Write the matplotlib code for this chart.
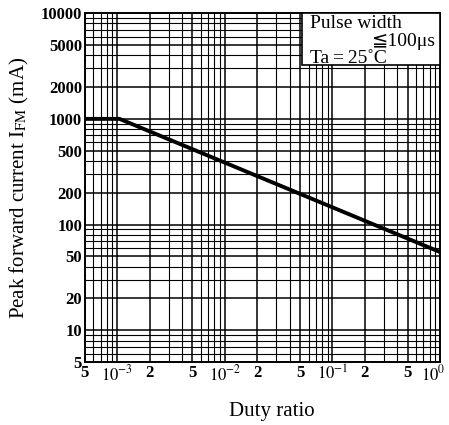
import matplotlib
matplotlib.use("Agg")
import matplotlib.pyplot as plt
from matplotlib.patches import Rectangle
from matplotlib.transforms import ScaledTranslation
from matplotlib.ticker import LogLocator, FixedLocator, FixedFormatter, NullFormatter

# duty ratio vs allowable peak forward current
duty = [5e-4, 1.05e-3, 1.0]
i_fm = [1000, 1000, 55]

x_ticks = [5e-4, 1e-3, 2e-3, 5e-3, 1e-2, 2e-2, 5e-2, 1e-1, 2e-1, 5e-1, 1.0]
x_labels = ["5", r"$10^{-3}$", "2", "5", r"$10^{-2}$", "2", "5",
            r"$10^{-1}$", "2", "5", r"$10^{0}$"]
y_ticks = [5, 10, 20, 50, 100, 200, 500, 1000, 2000, 5000, 10000]
y_labels = [str(v) for v in y_ticks]

plt.rcParams["font.family"] = ["Liberation Serif", "DejaVu Sans"]
plt.rcParams["mathtext.fontset"] = "stix"

fig = plt.figure(figsize=(4.49, 4.25), dpi=100)
ax = fig.add_axes([0.189, 0.148, 0.791, 0.821])

ax.set_xscale("log")
ax.set_yscale("log")
ax.set_xlim(5e-4, 1.0)
ax.set_ylim(5, 10000)

ax.xaxis.set_major_locator(FixedLocator(x_ticks))
ax.xaxis.set_major_formatter(FixedFormatter(x_labels))
ax.xaxis.set_minor_locator(LogLocator(base=10, subs=range(2, 10), numticks=20))
ax.xaxis.set_minor_formatter(NullFormatter())
ax.yaxis.set_major_locator(FixedLocator(y_ticks))
ax.yaxis.set_major_formatter(FixedFormatter(y_labels))
ax.yaxis.set_minor_locator(LogLocator(base=10, subs=range(2, 10), numticks=20))
ax.yaxis.set_minor_formatter(NullFormatter())

ax.grid(which="major", color="black", linewidth=1.1)
ax.grid(which="minor", color="black", linewidth=0.8)
ax.tick_params(which="both", length=0, pad=2, labelsize=12)
for lab in ax.get_xticklabels() + ax.get_yticklabels():
    lab.set_fontweight("bold")
# keep the last x label inside the figure
last = ax.get_xticklabels()[-1]
last.set_transform(last.get_transform() + ScaledTranslation(-5 / 72, 0, fig.dpi_scale_trans))
for s in ax.spines.values():
    s.set_linewidth(1.4)

ax.plot(duty, i_fm, color="black", linewidth=2.8, solid_capstyle="butt", zorder=4)

# condition box in the upper right corner
ax.add_patch(Rectangle((0.611, 0.851), 0.389, 0.149, transform=ax.transAxes,
                       facecolor="white", edgecolor="black", linewidth=1.2,
                       zorder=5, clip_on=False))
ax.text(0.634, 0.958, "Pulse width", transform=ax.transAxes, ha="left",
        va="baseline", fontsize=14, zorder=6)
ax.text(0.988, 0.906, "\u2266100\u03bcs", transform=ax.transAxes, ha="right",
        va="baseline", fontsize=14, zorder=6)
ax.text(0.634, 0.858, "Ta\u2009=\u200925\u02daC", transform=ax.transAxes, ha="left",
        va="baseline", fontsize=14, zorder=6)

ax.set_ylabel("Peak forward current I$_{\\mathrm{FM}}$ (mA)", fontsize=15, labelpad=7)
ax.set_xlabel("Duty ratio", fontsize=15, labelpad=12)
ax.xaxis.set_label_coords(0.525, -0.115)

fig.savefig("out.png", dpi=100)
